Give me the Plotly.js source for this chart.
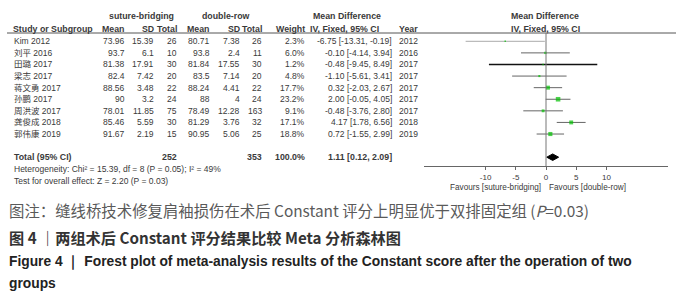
<!DOCTYPE html>
<html>
<head>
<meta charset="utf-8">
<script src="https://cdn.plot.ly/plotly-3.0.1.min.js"></script>
<style>html,body{margin:0;padding:0;background:#fff;}#chart{width:676px;height:300px;}</style>
</head>
<body>
<div id="chart"></div>
<script>
// ---- data ----
const names  = ['Kim', '刘平', '田璐', '梁志', '蒋文勇', '孙鹏', '周洪波', '龚俊成', '郭伟康'];
const years  = [2012, 2016, 2017, 2017, 2017, 2017, 2017, 2018, 2019];
const sbMean = [73.96, 93.7, 81.38, 82.4, 88.56, 90, 78.01, 85.46, 91.67];
const sbSD   = [15.39, 6.1, 17.91, 7.42, 3.48, 3.2, 11.85, 5.59, 2.19];
const sbN    = [26, 10, 30, 20, 22, 24, 75, 30, 15];
const drMean = [80.71, 93.8, 81.84, 83.5, 88.24, 88, 78.49, 81.29, 90.95];
const drSD   = [7.38, 2.4, 17.55, 7.14, 4.41, 4, 12.28, 3.76, 5.06];
const drN    = [26, 11, 30, 20, 22, 24, 163, 32, 25];
const weight = [2.3, 6.0, 1.2, 4.8, 17.7, 23.2, 9.1, 17.1, 18.8];
const md     = [-6.75, -0.10, -0.48, -1.10, 0.32, 2.00, -0.48, 4.17, 0.72];
const ciLo   = [-13.31, -4.14, -9.45, -5.61, -2.03, -0.05, -3.76, 1.78, -1.55];
const ciHi   = [-0.19, 3.94, 8.49, 3.41, 2.67, 4.05, 2.80, 6.56, 2.99];
const totalN = [252, 353];
const totalWeight = 100.0;
const totalMD = [1.11, 0.12, 2.09]; // estimate, lower, upper
const hetText = 'Heterogeneity: Chi² = 15.39, df = 8 (P = 0.05); I² = 49%';
const testText = 'Test for overall effect: Z = 2.20 (P = 0.03)';
const xTicks = [-10, -5, 0, 5, 10];
const favLeft = 'Favours [suture-bridging]';
const favRight = 'Favours [double-row]';
const caption1 = '图注：缝线桥技术修复肩袖损伤在术后 Constant 评分上明显优于双排固定组 (<i>P</i>=0.03)';
const caption2 = '图 4 ｜两组术后 Constant 评分结果比较 Meta 分析森林图';
const caption3 = 'Figure 4 ｜ Forest plot of meta-analysis results of the Constant score after the operation of two';
const caption4 = 'groups';

// ---- layout helpers ----
const W = 676, H = 300;
const rowY0 = 41.3, rowStep = 11.59;          // pixel centre of row 0 and row spacing
const rowOf = p => (p - rowY0) / rowStep;       // pixel -> row coordinate
const px = x => x / W;                           // pixel -> paper x
const TF = 'Liberation Sans, Arial, Noto Sans CJK SC, sans-serif';
const TC = '#3a3a3a';
const FS = 8.5;
const FSB = 8.8;
const totalRow = names.length + 1;

const traces = [];
const annotations = [];
const shapes = [];

function txt(x, row, s, anchor, bold) {
  annotations.push({
    xref: 'paper', yref: 'y', x: px(x), y: row, text: bold ? '<b>' + s + '</b>' : s,
    xanchor: anchor, yanchor: 'middle', showarrow: false,
    font: {family: TF, size: bold ? FSB : FS, color: TC}, borderpad: 0
  });
}

// column headers
const hdrRow = rowOf(29), grpRow = rowOf(16);
txt(141, grpRow, 'suture-bridging', 'center', true);
txt(226, grpRow, 'double-row', 'center', true);
txt(347, grpRow, 'Mean Difference', 'center', true);
txt(545, grpRow, 'Mean Difference', 'center', true);
txt(12, hdrRow, 'Study or Subgroup', 'left', true);
txt(126, hdrRow, 'Mean', 'right', true);
txt(155, hdrRow, 'SD', 'right', true);
txt(178, hdrRow, 'Total', 'right', true);
txt(211, hdrRow, 'Mean', 'right', true);
txt(241, hdrRow, 'SD', 'right', true);
txt(263, hdrRow, 'Total', 'right', true);
txt(306, hdrRow, 'Weight', 'right', true);
txt(380, hdrRow, 'IV, Fixed, 95% CI', 'right', true);
txt(398, hdrRow, 'Year', 'left', true);
txt(545, hdrRow, 'IV, Fixed, 95% CI', 'center', true);

// header rule
shapes.push({type: 'line', xref: 'paper', yref: 'y', x0: px(7), x1: 1, y0: rowOf(33), y1: rowOf(33),
  line: {color: '#555', width: 1}});

const fmtCI = (m, l, h) => m.toFixed(2) + ' [' + l.toFixed(2) + ', ' + h.toFixed(2) + ']';

// study rows
names.forEach((n, i) => {
  txt(13, i, n + ' ' + years[i], 'left', false);
  txt(126, i, String(sbMean[i]), 'right');
  txt(155, i, String(sbSD[i]), 'right');
  txt(178, i, String(sbN[i]), 'right');
  txt(211, i, String(drMean[i]), 'right');
  txt(241, i, String(drSD[i]), 'right');
  txt(263, i, String(drN[i]), 'right');
  txt(306, i, weight[i].toFixed(1) + '%', 'right');
  txt(393, i, fmtCI(md[i], ciLo[i], ciHi[i]), 'right');
  txt(398, i, String(years[i]), 'left');
});

// total rows
txt(13, totalRow, 'Total (95% CI)', 'left', true);
txt(178, totalRow, String(totalN[0]), 'right', true);
txt(263, totalRow, String(totalN[1]), 'right', true);
txt(306, totalRow, totalWeight.toFixed(1) + '%', 'right', true);
txt(393, totalRow, fmtCI(totalMD[0], totalMD[1], totalMD[2]), 'right', true);
txt(13, rowOf(169.3), hetText, 'left', false);
txt(13, rowOf(180.7), testText, 'left', false);

// CI lines
names.forEach((n, i) => {
  traces.push({type: 'scatter', mode: 'lines', x: [ciLo[i], ciHi[i]], y: [i, i],
    line: {color: i === 2 ? '#111' : (i === 0 ? '#aaa' : '#666'), width: i === 2 ? 1.4 : 1},
    hoverinfo: 'skip'});
});
// weighted squares
traces.push({type: 'scatter', mode: 'markers', x: md, y: names.map((n, i) => i),
  marker: {symbol: 'square', color: '#00c000', size: weight.map(w => Math.max(1.5, 0.95 * Math.sqrt(w))),
           line: {width: 0}},
  hoverinfo: 'skip'});
// diamond
const dh = 0.28;
traces.push({type: 'scatter', mode: 'lines', fill: 'toself', fillcolor: '#000',
  x: [totalMD[1], totalMD[0], totalMD[2], totalMD[0], totalMD[1]],
  y: [totalRow, totalRow - dh, totalRow, totalRow + dh, totalRow],
  line: {color: '#000', width: 1}, hoverinfo: 'skip'});

// line of no effect
shapes.push({type: 'line', xref: 'x', yref: 'y', x0: 0, x1: 0, y0: rowOf(33), y1: rowOf(166),
  line: {color: '#777', width: 1}});

// favours labels
annotations.push({xref: 'x', yref: 'y', x: -0.7, y: rowOf(187), text: favLeft, xanchor: 'right',
  yanchor: 'middle', showarrow: false, borderpad: 0, font: {family: TF, size: 8.2, color: TC}});
annotations.push({xref: 'x', yref: 'y', x: 0.4, y: rowOf(187), text: favRight, xanchor: 'left',
  yanchor: 'middle', showarrow: false, borderpad: 0, font: {family: TF, size: 8.2, color: TC}});

// captions
const CJK = 'Noto Sans CJK SC, sans-serif';
const EN = 'Liberation Sans Narrow, Liberation Sans, sans-serif';
annotations.push({xref: 'paper', yref: 'paper', x: px(7), y: 1 - 210 / H, text: caption1,
  xanchor: 'left', yanchor: 'middle', showarrow: false, font: {family: CJK, size: 15.4, color: '#5a5a5a'}});
annotations.push({xref: 'paper', yref: 'paper', x: px(7), y: 1 - 237 / H, text: '<b>' + caption2 + '</b>',
  xanchor: 'left', yanchor: 'middle', showarrow: false, font: {family: CJK, size: 15.2, color: '#333'}});
annotations.push({xref: 'paper', yref: 'paper', x: px(7), y: 1 - 262 / H, text: '<b>' + caption3 + '</b>',
  xanchor: 'left', yanchor: 'middle', showarrow: false, font: {family: EN, size: 13.8, color: '#222'}});
annotations.push({xref: 'paper', yref: 'paper', x: px(7), y: 1 - 283 / H, text: '<b>' + caption4 + '</b>',
  xanchor: 'left', yanchor: 'middle', showarrow: false, font: {family: EN, size: 13.8, color: '#222'}});

const layout = {
  width: W, height: H, margin: {l: 0, r: 0, t: 0, b: 0},
  paper_bgcolor: '#fff', plot_bgcolor: 'rgba(0,0,0,0)', showlegend: false,
  xaxis: {domain: [px(424), px(668)], range: [-20.2, 20.2], anchor: 'free', position: 1 - 166 / H,
    showline: true, linecolor: '#666', linewidth: 1, ticks: 'outside', ticklen: 3, tickcolor: '#666',
    tickvals: xTicks, ticktext: xTicks.map(String), tickfont: {family: TF, size: 8, color: TC},
    ticklabelstandoff: 0,
    showgrid: false, zeroline: false, fixedrange: true},
  yaxis: {domain: [0, 1], range: [rowOf(H), rowOf(0)], visible: false, showgrid: false, zeroline: false},
  annotations: annotations, shapes: shapes
};

Plotly.newPlot('chart', traces, layout, {staticPlot: true, displayModeBar: false});
</script>
</body>
</html>
